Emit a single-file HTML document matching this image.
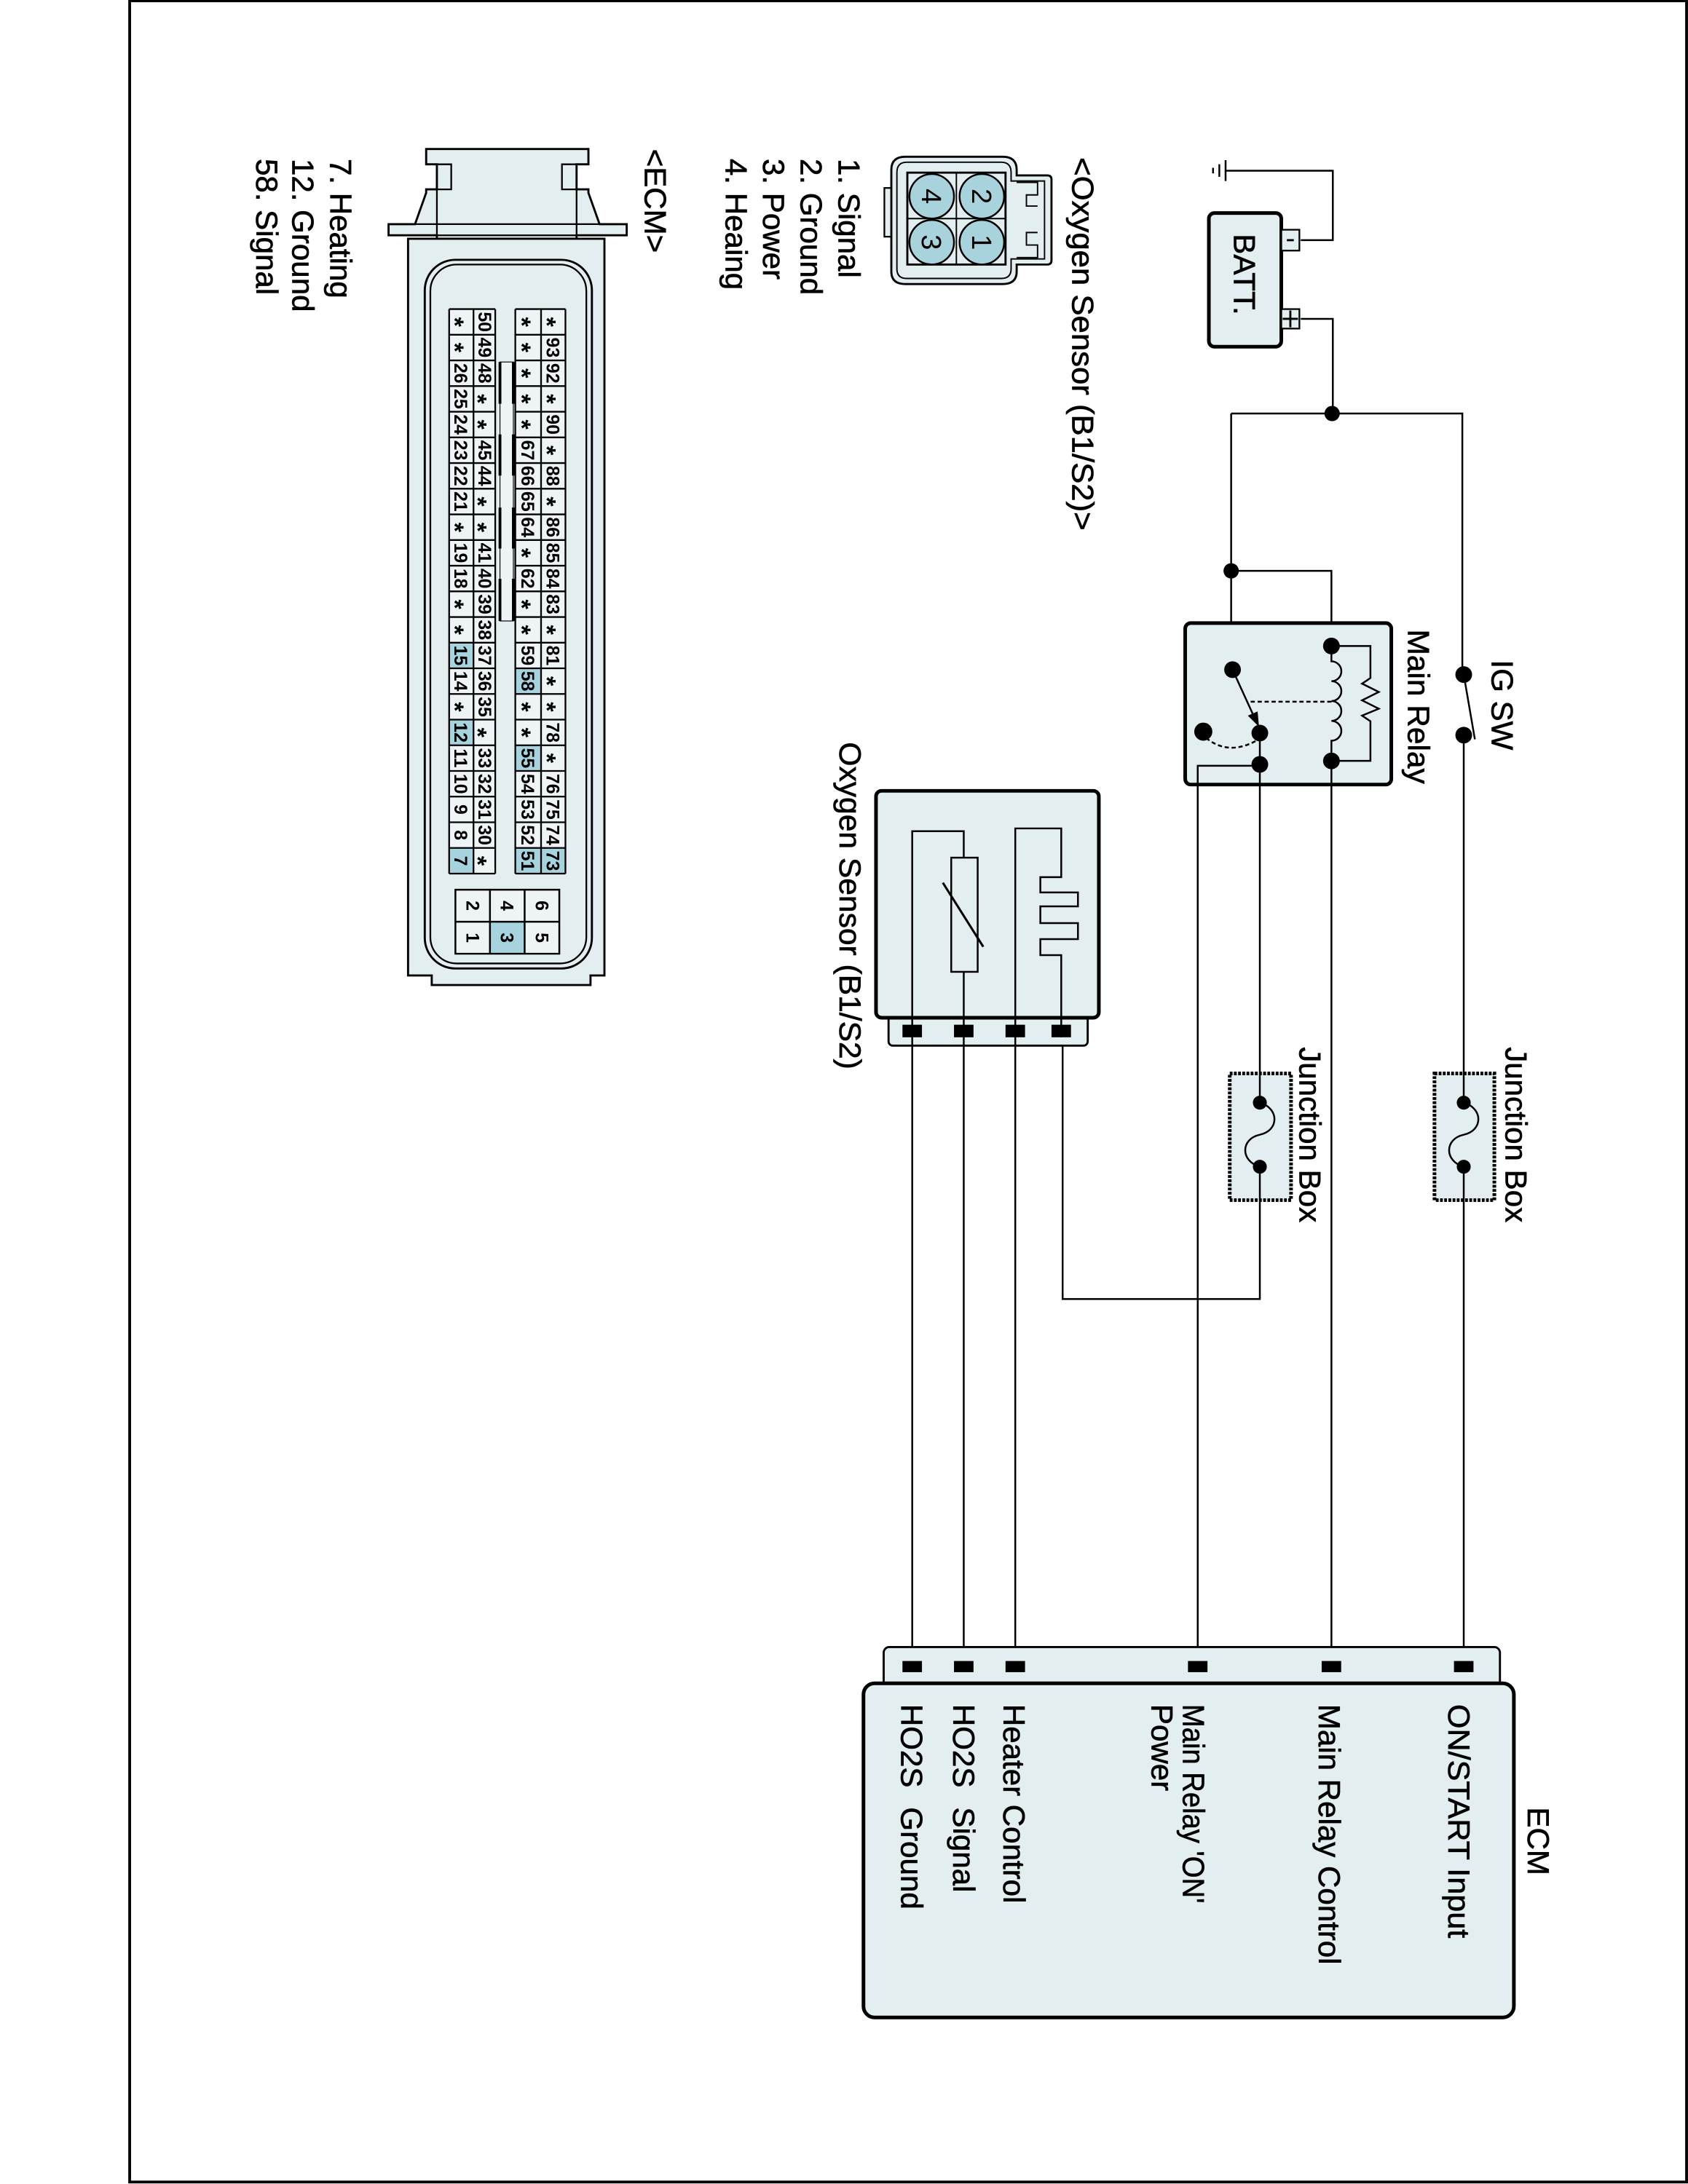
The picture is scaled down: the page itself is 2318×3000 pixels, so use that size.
<!DOCTYPE html>
<html><head><meta charset="utf-8"><style>
html,body{margin:0;padding:0;background:#fff}
svg{display:block}
text{font-family:"Liberation Sans",Arial,sans-serif;fill:#000}
.w{fill:none;stroke:#000;stroke-width:1.3}
.bx{fill:#e3eef0;stroke:#000;stroke-width:2.6}
.t{font-size:22px;stroke:#000;stroke-width:0.35}
.n{font-size:13px;font-weight:bold;text-anchor:middle}
.s{font-size:18px;font-weight:bold;text-anchor:middle}
</style></head><body>
<svg width="2318" height="3000" viewBox="0 0 1212.03 1568.63" xmlns="http://www.w3.org/2000/svg">
<rect x="0" y="0" width="1212.03" height="1568.63" fill="#fff"/>
<rect x="93.1" y="0.6" width="1117.9" height="1566.6" fill="none" stroke="#000" stroke-width="2"/>

<!-- ground & battery -->
<path class="w" d="M880,122.6 H957 V172.5 H934 M934,229 H957 V297 M884,297 H1050 V484 M884,297 V481 M884,410 H956 V464"/>
<path d="M880,115 V130 M875.5,118 V127 M871,120.5 V124.5" stroke="#000" stroke-width="1.3"/>
<rect x="868" y="153" width="52" height="96" rx="4" class="bx" stroke-width="1.8"/>
<rect x="920" y="165" width="13" height="15" fill="#e3eef0" stroke="#000" stroke-width="1.2"/>
<path d="M924,172.5 H929" stroke="#000" stroke-width="1.5"/>
<rect x="920" y="222" width="13" height="14" fill="#e3eef0" stroke="#000" stroke-width="1.2"/>
<path d="M921,229 H932 M926.5,223 V235" stroke="#000" stroke-width="1.5"/>
<text class="t" transform="translate(886,168) rotate(90)">BATT.</text>
<circle cx="956.5" cy="297" r="5.5"/>
<circle cx="884" cy="410" r="5.5"/>

<!-- IG SW -->
<circle cx="1051" cy="484.5" r="6"/>
<circle cx="1051" cy="528" r="6"/>
<path class="w" d="M1051,484.5 L1059,531" stroke-width="1.6"/>
<path class="w" d="M1051,528 V1195"/>
<text class="t" transform="translate(1071,474) rotate(90)">IG SW</text>

<!-- Main relay -->
<rect x="851" y="447.5" width="148" height="116" rx="4" class="bx" stroke-width="3"/>
<path class="w" d="M956,464 V475 a7,7 0 0 1 0,14.25 a7,7 0 0 1 0,14.25 a7,7 0 0 1 0,14.25 a7,7 0 0 1 0,14.25 V1195"/>
<path class="w" d="M956,464 H984 V487 L978,491 L990,497 L978,503 L990,509 L978,514 L984,518 V546.5 H956"/>
<path class="w" d="M956,504 H896" stroke-dasharray="3,2"/>
<circle cx="956" cy="464" r="6"/>
<circle cx="956" cy="546.5" r="6"/>
<circle cx="885" cy="481" r="6"/>
<path class="w" d="M885,481 L901,516" stroke-width="1.6"/>
<path d="M904,522 L896,514 L903,511 Z"/>
<circle cx="904.6" cy="526.5" r="6"/>
<circle cx="904.6" cy="549" r="6"/>
<circle cx="864" cy="525.5" r="6.5"/>
<path class="w" d="M866,530 Q882,543 902,532" stroke-dasharray="3,2"/>
<path class="w" d="M904.6,526.5 V933 H763 V745 M860,1195 V550 H904.6"/>
<text class="t" transform="translate(1011,452) rotate(90)" textLength="111" lengthAdjust="spacingAndGlyphs">Main Relay</text>

<!-- Junction boxes -->
<rect x="1030" y="771" width="43" height="91" class="bx" stroke-width="2" stroke-dasharray="2,1"/>
<path class="w" d="M1051,771 V792 M1051,838 V862 M1051,792 C1065,796 1065,812 1051,815 C1037,818 1037,834 1051,838"/>
<circle cx="1051" cy="792" r="5"/><circle cx="1051" cy="838" r="5"/>
<text class="t" transform="translate(1081,752) rotate(90)" textLength="126" lengthAdjust="spacingAndGlyphs">Junction Box</text>
<rect x="883" y="771" width="44" height="91" class="bx" stroke-width="2" stroke-dasharray="2,1"/>
<path class="w" d="M904.6,771 V792 M904.6,838 V862 M904.6,792 C918.6,796 918.6,812 904.6,815 C890.6,818 890.6,834 904.6,838"/>
<circle cx="904.6" cy="792" r="5"/><circle cx="904.6" cy="838" r="5"/>
<text class="t" transform="translate(933,752) rotate(90)" textLength="126" lengthAdjust="spacingAndGlyphs">Junction Box</text>

<!-- Oxygen sensor -->
<rect x="638" y="720" width="143" height="31" rx="3" fill="#e3eef0" stroke="#000" stroke-width="1.5"/>
<rect x="629" y="568" width="160" height="163" rx="4" class="bx" stroke-width="3"/>
<path class="w" d="M655,745 V597 H692 V616 M692,698 V745 M729,745 V595 H762 V630 H747 V641 H774 V651 H747 V663 H774 V674.5 H747 V686 H762 V745"/>
<rect x="683" y="616" width="19" height="82" fill="none" stroke="#000" stroke-width="1.3"/>
<path d="M677,634 L706,680" stroke="#000" stroke-width="1.6"/>
<rect x="648" y="736" width="14" height="9" /><rect x="685" y="736" width="14" height="9"/><rect x="722" y="736" width="14" height="9"/><rect x="755" y="736" width="14" height="9"/>
<path class="w" d="M655,745 V1195 M692,745 V1195 M729,745 V1195"/>
<text class="t" transform="translate(603,533) rotate(90)" textLength="235" lengthAdjust="spacingAndGlyphs">Oxygen Sensor (B1/S2)</text>

<!-- ECM box -->
<rect x="634.5" y="1183" width="442.5" height="30" rx="4" fill="#e3eef0" stroke="#000" stroke-width="1.5"/>
<rect x="620" y="1209" width="467" height="240" rx="8" class="bx" stroke-width="3"/>
<rect x="648" y="1193" width="14" height="8"/><rect x="685" y="1193" width="14" height="8"/><rect x="722" y="1193" width="14" height="8"/><rect x="853" y="1193" width="14" height="8"/><rect x="949" y="1193" width="14" height="8"/><rect x="1044" y="1193" width="14" height="8"/>
<text class="t" transform="translate(1097,1298) rotate(90)">ECM</text>
<text class="t" transform="translate(1040,1224) rotate(90)" textLength="168" lengthAdjust="spacingAndGlyphs">ON/START Input</text>
<text class="t" transform="translate(947,1224) rotate(90)" textLength="187" lengthAdjust="spacingAndGlyphs">Main Relay Control</text>
<text class="t" transform="translate(849.5,1224) rotate(90)" textLength="143" lengthAdjust="spacingAndGlyphs">Main Relay 'ON'</text>
<text class="t" transform="translate(827,1224) rotate(90)">Power</text>
<text class="t" transform="translate(720.5,1224) rotate(90)" textLength="143" lengthAdjust="spacingAndGlyphs">Heater Control</text>
<text class="t" transform="translate(684.5,1224) rotate(90)">HO2S</text>
<text class="t" transform="translate(684.5,1298) rotate(90)">Signal</text>
<text class="t" transform="translate(647,1224) rotate(90)">HO2S</text>
<text class="t" transform="translate(647,1298) rotate(90)">Ground</text>

<!-- Oxygen connector -->
<text class="t" transform="translate(770,113) rotate(90)" textLength="268" lengthAdjust="spacingAndGlyphs">&lt;Oxygen Sensor (B1/S2)&gt;</text>
<rect x="635" y="135" width="6" height="35" fill="#e3eef0" stroke="#000" stroke-width="1.2"/>
<path d="M640,122 Q640,112.6 650,112.6 H720 Q730,112.6 730,122 V126 H752 Q755,126 755,129 V187 Q755,190 752,190 H730 V195 Q730,204 720,204 H650 Q640,204 640,195 Z" fill="#e3eef0" stroke="#000" stroke-width="1.5"/>
<path d="M644,124 Q644,116.5 651,116.5 H719 Q726,116.5 726,124 V130 H750 V186 H726 V193 Q726,200 719,200 H651 Q644,200 644,193 Z" fill="none" stroke="#000" stroke-width="1"/>
<path d="M730,131 H745 V140 H737 V148 H745 M745,167 H737 V176 H745 V185 H730" fill="none" stroke="#000" stroke-width="1"/>
<rect x="651.5" y="124" width="70.5" height="66" fill="#e3eef0" stroke="#000" stroke-width="1.5"/>
<path d="M686.7,124 V190 M651.5,157 H722" stroke="#000" stroke-width="1"/>
<circle cx="705" cy="141" r="16" fill="#a9d3dc" stroke="#000" stroke-width="1.3"/>
<circle cx="705" cy="174" r="16" fill="#a9d3dc" stroke="#000" stroke-width="1.3"/>
<circle cx="669" cy="141" r="16" fill="#a9d3dc" stroke="#000" stroke-width="1.3"/>
<circle cx="669" cy="174" r="16" fill="#a9d3dc" stroke="#000" stroke-width="1.3"/>
<g style="font-size:20px;text-anchor:middle">
<text transform="translate(698,141) rotate(90)">2</text>
<text transform="translate(698,174) rotate(90)">1</text>
<text transform="translate(662,141) rotate(90)">4</text>
<text transform="translate(662,174) rotate(90)">3</text>
</g>
<text class="t" transform="translate(602,114) rotate(90)">1. Signal</text>
<text class="t" transform="translate(575,114) rotate(90)">2. Ground</text>
<text class="t" transform="translate(548,114) rotate(90)">3. Power</text>
<text class="t" transform="translate(521,114) rotate(90)">4. Heaing</text>

<!-- ECM connector -->
<text class="t" transform="translate(463,107) rotate(90)">&lt;ECM&gt;</text>
<text class="t" transform="translate(237,114) rotate(90)">7. Heating</text>
<text class="t" transform="translate(210,114) rotate(90)">12. Ground</text>
<text class="t" transform="translate(184,114) rotate(90)">58. Signal</text>
<path d="M306,107 H422.5 V118 H414 V136 H422.5 V138.5 L430.5,161 H450 V169 H414 V171.5 H313.7 V169 H279 V161 H298 L306,138.5 V136 H313.7 V118 H306 Z" fill="#e3eef0" stroke="#000" stroke-width="1.5"/>
<path d="M313.7,118 H324 V136 H313.7 M414,118 H403.5 V136 H414 M313.7,136 V169 M414,136 V169 M279,161 H450 M313.7,169 H414" fill="none" stroke="#000" stroke-width="1.2"/>
<path d="M293,171.5 H434 V700.6 H424 V707.5 H310 V700.6 H293 Z" fill="#e3eef0" stroke="#000" stroke-width="1.5"/>
<rect x="305" y="186.6" width="120" height="509" rx="22" fill="none" stroke="#000" stroke-width="1.5"/>
<rect x="309" y="190" width="112" height="502" rx="19" fill="none" stroke="#000" stroke-width="1.2"/>
<rect x="322.5" y="222" width="33.1" height="405.5" fill="#eef4f5"/>
<rect x="370" y="222" width="36" height="405.5" fill="#eef4f5"/>
<g fill="#a6d3dd">
<rect x="322.5" y="461.6" width="17.5" height="18.43"/>
<rect x="322.5" y="516.9" width="17.5" height="18.43"/>
<rect x="322.5" y="609" width="17.5" height="18.43"/>
<rect x="370" y="480" width="18.5" height="18.43"/>
<rect x="370" y="535.3" width="18.5" height="18.43"/>
<rect x="370" y="609" width="18.5" height="18.43"/>
<rect x="388.5" y="609" width="17.5" height="18.43"/>
</g>
<path fill="none" stroke="#000" stroke-width="1.2" d="M322.5,222 V627.5 M340,222 V627.5 M355.6,222 V627.5 M370,222 V627.5 M388.5,222 V627.5 M406,222 V627.5
M322.5,222H355.6M370,222H406 M322.5,240.43H355.6M370,240.43H406 M322.5,258.86H355.6M370,258.86H406 M322.5,277.29H355.6M370,277.29H406 M322.5,295.72H355.6M370,295.72H406 M322.5,314.15H355.6M370,314.15H406 M322.5,332.58H355.6M370,332.58H406 M322.5,351.01H355.6M370,351.01H406 M322.5,369.44H355.6M370,369.44H406 M322.5,387.87H355.6M370,387.87H406 M322.5,406.3H355.6M370,406.3H406 M322.5,424.73H355.6M370,424.73H406 M322.5,443.16H355.6M370,443.16H406 M322.5,461.59H355.6M370,461.59H406 M322.5,480.02H355.6M370,480.02H406 M322.5,498.45H355.6M370,498.45H406 M322.5,516.88H355.6M370,516.88H406 M322.5,535.31H355.6M370,535.31H406 M322.5,553.74H355.6M370,553.74H406 M322.5,572.17H355.6M370,572.17H406 M322.5,590.6H355.6M370,590.6H406 M322.5,609.03H355.6M370,609.03H406 M322.5,627.46H355.6M370,627.46H406"/>
<rect x="359" y="260" width="9.6" height="186" fill="#eef4f5" stroke="#000" stroke-width="0.6"/>
<path stroke="#000" stroke-width="2" d="M359,260V290M368.6,260V290M359,312V341.6M368.6,312V341.6M359,364.5V394M368.6,364.5V394M359,415.7V446M368.6,415.7V446"/>

<!-- cell labels: numbers -->
<g class="n" transform="translate(-0.6,0)">
<text transform="translate(327,268.1) rotate(90)">26</text>
<text transform="translate(327,286.5) rotate(90)">25</text>
<text transform="translate(327,304.9) rotate(90)">24</text>
<text transform="translate(327,323.4) rotate(90)">23</text>
<text transform="translate(327,341.8) rotate(90)">22</text>
<text transform="translate(327,360.2) rotate(90)">21</text>
<text transform="translate(327,397.1) rotate(90)">19</text>
<text transform="translate(327,415.5) rotate(90)">18</text>
<text transform="translate(327,470.8) rotate(90)">15</text>
<text transform="translate(327,489.2) rotate(90)">14</text>
<text transform="translate(327,526.1) rotate(90)">12</text>
<text transform="translate(327,544.5) rotate(90)">11</text>
<text transform="translate(327,563) rotate(90)">10</text>
<text transform="translate(327,581.4) rotate(90)">9</text>
<text transform="translate(327,599.8) rotate(90)">8</text>
<text transform="translate(327,618.3) rotate(90)">7</text>
<text transform="translate(344,231.2) rotate(90)">50</text>
<text transform="translate(344,249.6) rotate(90)">49</text>
<text transform="translate(344,268.1) rotate(90)">48</text>
<text transform="translate(344,323.4) rotate(90)">45</text>
<text transform="translate(344,341.8) rotate(90)">44</text>
<text transform="translate(344,397.1) rotate(90)">41</text>
<text transform="translate(344,415.5) rotate(90)">40</text>
<text transform="translate(344,434) rotate(90)">39</text>
<text transform="translate(344,452.4) rotate(90)">38</text>
<text transform="translate(344,470.8) rotate(90)">37</text>
<text transform="translate(344,489.2) rotate(90)">36</text>
<text transform="translate(344,507.7) rotate(90)">35</text>
<text transform="translate(344,544.5) rotate(90)">33</text>
<text transform="translate(344,563) rotate(90)">32</text>
<text transform="translate(344,581.4) rotate(90)">31</text>
<text transform="translate(344,599.8) rotate(90)">30</text>
<text transform="translate(375,323.4) rotate(90)">67</text>
<text transform="translate(375,341.8) rotate(90)">66</text>
<text transform="translate(375,360.2) rotate(90)">65</text>
<text transform="translate(375,378.7) rotate(90)">64</text>
<text transform="translate(375,415.5) rotate(90)">62</text>
<text transform="translate(375,470.8) rotate(90)">59</text>
<text transform="translate(375,489.2) rotate(90)">58</text>
<text transform="translate(375,544.5) rotate(90)">55</text>
<text transform="translate(375,563) rotate(90)">54</text>
<text transform="translate(375,581.4) rotate(90)">53</text>
<text transform="translate(375,599.8) rotate(90)">52</text>
<text transform="translate(375,618.3) rotate(90)">51</text>
<text transform="translate(393,249.6) rotate(90)">93</text>
<text transform="translate(393,268.1) rotate(90)">92</text>
<text transform="translate(393,304.9) rotate(90)">90</text>
<text transform="translate(393,341.8) rotate(90)">88</text>
<text transform="translate(393,378.7) rotate(90)">86</text>
<text transform="translate(393,397.1) rotate(90)">85</text>
<text transform="translate(393,415.5) rotate(90)">84</text>
<text transform="translate(393,434) rotate(90)">83</text>
<text transform="translate(393,470.8) rotate(90)">81</text>
<text transform="translate(393,526.1) rotate(90)">78</text>
<text transform="translate(393,563) rotate(90)">76</text>
<text transform="translate(393,581.4) rotate(90)">75</text>
<text transform="translate(393,599.8) rotate(90)">74</text>
<text transform="translate(393,618.3) rotate(90)">73</text>
</g>
<!-- asterisks -->
<g class="s" transform="translate(-1.9,0)">
<text transform="translate(322.5,231.2) rotate(90)">*</text>
<text transform="translate(322.5,249.6) rotate(90)">*</text>
<text transform="translate(322.5,378.7) rotate(90)">*</text>
<text transform="translate(322.5,434) rotate(90)">*</text>
<text transform="translate(322.5,452.4) rotate(90)">*</text>
<text transform="translate(322.5,507.7) rotate(90)">*</text>
<text transform="translate(339,286.5) rotate(90)">*</text>
<text transform="translate(339,304.9) rotate(90)">*</text>
<text transform="translate(339,360.2) rotate(90)">*</text>
<text transform="translate(339,378.7) rotate(90)">*</text>
<text transform="translate(339,526.1) rotate(90)">*</text>
<text transform="translate(339,618.3) rotate(90)">*</text>
<text transform="translate(370.5,231.2) rotate(90)">*</text>
<text transform="translate(370.5,249.6) rotate(90)">*</text>
<text transform="translate(370.5,268.1) rotate(90)">*</text>
<text transform="translate(370.5,286.5) rotate(90)">*</text>
<text transform="translate(370.5,304.9) rotate(90)">*</text>
<text transform="translate(370.5,397.1) rotate(90)">*</text>
<text transform="translate(370.5,434) rotate(90)">*</text>
<text transform="translate(370.5,452.4) rotate(90)">*</text>
<text transform="translate(370.5,507.7) rotate(90)">*</text>
<text transform="translate(370.5,526.1) rotate(90)">*</text>
<text transform="translate(388.5,231.2) rotate(90)">*</text>
<text transform="translate(388.5,286.5) rotate(90)">*</text>
<text transform="translate(388.5,323.4) rotate(90)">*</text>
<text transform="translate(388.5,360.2) rotate(90)">*</text>
<text transform="translate(388.5,452.4) rotate(90)">*</text>
<text transform="translate(388.5,489.2) rotate(90)">*</text>
<text transform="translate(388.5,507.7) rotate(90)">*</text>
<text transform="translate(388.5,544.5) rotate(90)">*</text>
</g>
<!-- small 6-pin grid -->
<rect x="327" y="639" width="74.6" height="46" fill="#eef4f5"/>
<rect x="351.8" y="662" width="24.9" height="23" fill="#a6d3dd"/>
<path fill="none" stroke="#000" stroke-width="1.3" d="M327,639 H401.6 V685 H327 Z M351.8,639 V685 M376.7,639 V685 M327,662 H401.6"/>
<g style="font-size:13px;font-weight:bold;text-anchor:middle">
<text transform="translate(334.8,650.5) rotate(90)">2</text>
<text transform="translate(334.8,673.5) rotate(90)">1</text>
<text transform="translate(359.6,650.5) rotate(90)">4</text>
<text transform="translate(359.6,673.5) rotate(90)">3</text>
<text transform="translate(384.5,650.5) rotate(90)">6</text>
<text transform="translate(384.5,673.5) rotate(90)">5</text>
</g>
</svg>
</body></html>
